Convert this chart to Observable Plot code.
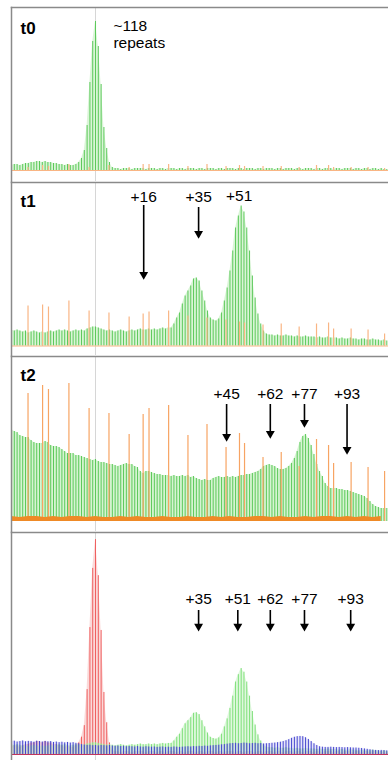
<!DOCTYPE html>
<html><head><meta charset="utf-8">
<script src="https://cdn.jsdelivr.net/npm/d3@7"></script>
<script src="https://cdn.jsdelivr.net/npm/@observablehq/plot@0.6"></script>
<style>
body{margin:0;background:#fff;}
#chart svg{display:block;}
</style></head><body><div id="chart"></div>
<script>
// ---- data: peak heights per CAG repeat (first repeat = 88) ----
const firstRepeat = 88;
const progenitorRepeat = 118;

// t0 (green) peak heights
const t0Green = [5,6,6,5,6,7,7,8,8,9,9,8,9,8,8,7,7,6,6,5,6,5,5,6,8,
  12,20,45,88,129,149,124,86,43,22,8,3,
  2,2,1,2,2,2,1,2,2,2, 2,1,2,2,2,1,2,2,1,2, 2,2,1,2,2,1,2,2,2,1, 2,2,1,2,2,2,1,2,2,1,
  2,2,2,1,2,2,1,2,2,2, 1,2,2,1,2,2,2,1,2,2, 1,2,2,2,1,2,2,1,2,2, 2,1,2,2,1,2,2,2,1,2,
  2,1,2,2,2,1,2,2,1,2, 2,1,2,2,1,2,1,1];

// t1 (green) peak heights
const t1Green = [16,15,16,15,14,15,13,14,15,14,13,14,13,14,15,14,15,16,15,16,15,14,15,16,15,16,15,17,18,19,
  19,18,17,16,15,16,15,14,15,16,15,14,15,16,15,16,17,16,16,17,16,17,16,17,18,17,18,
  18,22,28,33,42,50,55,60,67,68,65,55,45,35,28,26,25,27,33,45,58,75,95,118,130,140,134,118,95,70,48,32,22,15,12,
  11,11,10,11,10,10,11,10,10,9, 10,9,9,10,9,9,9,8,9,8, 8,9,8,8,8,7,8,7,7,8, 7,7,6,7,7,6,6,7,6,6, 5,6,5];

// t2 (green) peak heights
const t2Green = [92,90,89,86,85,84,84,81,79,78, 78,78,80,79,76,75,75,74,72,70,
  68,68,68,66,66,65,64,63,62,61, 62,60,59,59,58,57,57,56,55,56,
  57,58,57,57,55,54,50,48,50,50, 49,48,47,47,46,46,46,45,46,45,
  45,46,45,46,44,45,43,42,41,42, 41,41,43,44,45,44,44,45,44,45,
  44,45,46,46,47,47,48,49,50,52, 55,56,57,56,55,53,52,52,53,55,
  58,63,70,79,85,87,83,76,67,57, 50,45,38,35,33,33,33,32,32,31,
  31,30,29,28,27,26,25,23,20,17, 15,14,13,13,13];

// overlay panel: blue trace, % of the t0 maximum
const overlayBlue = [6.0,6.2,5.8,6.0,6.3,5.9,6.1,6.0,5.7,6.2,6.0,5.8,6.1,5.9,6.0,5.6,5.8,5.5,5.7,5.4,5.6,5.3,5.5,5.2,5.0,
  4.6,4.4,4.2,4.3,4.1,4.2,4.0,4.2,4.1,4.0,4.2,
  3.9,3.8,3.9,3.7,3.8,3.6,3.7,3.6,3.5,3.7,3.5,3.4,3.6,3.5,3.4,3.5,3.3,3.4,3.5,3.3,3.4,3.3,3.5,3.4,3.3,3.4,3.5,
  3.6,3.5,3.7,3.6,3.8,3.7,3.9,3.8,4.0,4.1,4.2,4.3,4.5,4.6,4.8,
  5.0,5.1,5.2,5.0,5.1,5.3,5.2,5.0,5.1,5.2,5.0,5.1,4.9,5.0,5.1,5.2,5.3,5.5,5.7,6.0,
  6.4,6.9,7.5,8.0,8.3,8.4,8.3,7.8,7.0,6.0,5.0,4.2,
  3.6,3.4,3.3,3.3,3.4,3.3,3.2,3.3,3.2,3.1,3.2,3.1,3.0,3.0,2.9,2.8,2.6,2.4,
  2.2,2.0,1.9,1.8,1.9,1.8,1.7];
const overlayGreenPeak = 40;   // t1 drawn at 40% of the t0 peak

// size standard (orange) peaks
const sizeStdPos = [93.9,99.1,101.2,108.5,115.7,122.8,130.0,135.0,137.1,144.1,151.0,157.8,164.6,169.4,171.2,177.8,184.3,190.7,196.9,201.2,203.0,209.25,215.3,221.2];
const t0Orange = [3,5,4,6,3,5,3,6,6,6,4,6,4,5,4,4,4,3,5,5,3,3,3,2];
const t1Orange = [40,41,39,45,35,33,29,32,34,35,30,28,26,24,23,21,22,19,22,23,17,17,16,12];
const t2Orange = [128,136,132,138,113,108,87,107,113,116,86,97,74,88,78,64,69,55,82,76,58,59,54,50];
const t2OrangeBaseStep = 3;
const t2OrangeBase = [5,4,5,5,4,5,4,5,5,4,5,4,4,5,4,5,4,4,5,4,4,5,4,4,5,4,5,4,4,5,5,4,5,4,4,5,4,5,5,4,5,4,5,4,5];

// annotations
const panelNames = ["t0","t1","t2",""];
const t0Note = "~118\nrepeats";
const t1Labels = ["+16","+35","+51"];
const t1LabelX = [135.2,154.8,169.3];
const t1LabelY = [144.5,144.5,145.5];
const t1ArrowTop = [140.5,138.5,null];
const t1ArrowTip = [66.5,107.5,null];
const t2Labels = ["+45","+62","+77","+93"];
const t2LabelX = [164.8,180.4,192.6,207.8];
const t2LabelY = 123;
const t2ArrowTop = 117;
const t2ArrowTip = [80,83,94,67];
const p4Labels = ["+35","+51","+62","+77","+93"];
const p4LabelX = [154.8,168.8,180.4,192.6,209.1];
const p4LabelY = 70.2;
const p4ArrowTop = 67.0;
const p4ArrowTip = 57.3;

// ---- helpers ----
const rows = (values, step = 1) => values.map((v, i) => ({r: firstRepeat + i * step, v}));
const std = (heights) => heights.map((v, i) => ({r: sizeStdPos[i], v}));
const xDomain = [88, 222.6];
const font = "'Liberation Sans', Arial, Helvetica, sans-serif";

function trace(data, stroke, fill, fillOpacity = 0.45, sw = 1) {
  return [
    Plot.areaY(data, {x: "r", y: "v", fill, fillOpacity, curve: "linear"}),
    Plot.ruleX(data, {x: "r", y1: 0, y2: "v", stroke, strokeWidth: sw})
  ];
}
function spikes(data, stroke, sw = 1.2) {
  return Plot.ruleX(data, {x: "r", y1: 0, y2: "v", stroke, strokeWidth: sw});
}
function arrows(list) {
  const a = list.filter(d => d.tip != null);
  return [
    Plot.ruleX(a, {x: "x", y1: "top", y2: "tip", stroke: "black", strokeWidth: 1.6, insetBottom: 5}),
    Plot.dot(a, {x: "x", y: "tip", symbol: "triangle", rotate: 180, r: 3.3, fill: "black", stroke: "none", dy: -5})
  ];
}
function labels(list) {
  return Plot.text(list, {x: "x", y: "y", text: "t", fontSize: 15.5, textAnchor: "middle", lineAnchor: "bottom", fill: "black"});
}
function panel({height, marginTop, yDomain, name, nameDy, marks}) {
  return Plot.plot({
    width: 388, height, marginLeft: 11, marginRight: 0, marginTop, marginBottom: 0,
    x: {domain: xDomain, axis: null},
    y: {domain: yDomain, axis: null},
    style: {fontFamily: font, overflow: "visible", background: "white"},
    marks: [
      Plot.ruleX([progenitorRepeat], {stroke: "#d6d6d6", strokeWidth: 1}),
      ...marks,
      name ? Plot.text([name], {frameAnchor: "top-left", dx: 9, dy: nameDy, fontSize: 17, fontWeight: "bold", textAnchor: "start", lineAnchor: "bottom", fill: "black"}) : null,
      Plot.frame({anchor: "top", stroke: "#8a8a8a", strokeWidth: 1.5}),
      Plot.frame({anchor: "left", stroke: "#8a8a8a", strokeWidth: 1.5})
    ]
  });
}

const green = "#5cc95a", greenFill = "#aee9a6";
const orangeLight = "#f9b584", orange = "#f7a463", orangeDark = "#ef8a26";

const chart = document.getElementById("chart");

// t0
chart.append(panel({
  height: 181, marginTop: 7, yDomain: [-11, 163], name: panelNames[0], nameDy: 26,
  marks: [
    ...trace(rows(t0Green), green, greenFill),
    spikes(std(t0Orange), orangeLight),
    Plot.ruleY([0], {stroke: orangeLight, strokeWidth: 1}),
    Plot.text([t0Note], {x: 124.4, y: 122.7, fontSize: 15.5, lineHeight: 1.07, textAnchor: "start", lineAnchor: "bottom", fill: "black"})
  ]
}));

// t1
const t1Ann = t1Labels.map((t, i) => ({t, x: t1LabelX[i], y: t1LabelY[i], top: t1ArrowTop[i], tip: t1ArrowTip[i]}));
chart.append(panel({
  height: 174, marginTop: 1, yDomain: [-9.5, 163.5], name: panelNames[1], nameDy: 24,
  marks: [
    ...trace(rows(t1Green), green, greenFill),
    spikes(std(t1Orange), orangeLight),
    Plot.ruleY([0], {stroke: orangeLight, strokeWidth: 1}),
    labels(t1Ann), ...arrows(t1Ann)
  ]
}));

// t2
const t2Ann = t2Labels.map((t, i) => ({t, x: t2LabelX[i], y: t2LabelY, top: t2ArrowTop, tip: t2ArrowTip[i]}));
chart.append(panel({
  height: 176, marginTop: 1, yDomain: [-10, 165], name: panelNames[2], nameDy: 24,
  marks: [
    ...trace(rows(t2Green), green, greenFill, 0.5),
    spikes(std(t2Orange), orange),
    Plot.areaY(rows(t2OrangeBase, t2OrangeBaseStep), {x: "r", y: "v", fill: orangeDark, curve: "linear"}),
    labels(t2Ann), ...arrows(t2Ann)
  ]
}));

// overlay
const t0Max = d3.max(t0Green), t1Max = d3.max(t1Green);
const redRows = rows(t0Green.map(v => v / t0Max * 100));
const greenRows = rows(t1Green.map(v => v / t1Max * overlayGreenPeak));
const p4Ann = p4Labels.map((t, i) => ({t, x: p4LabelX[i], y: p4LabelY, top: p4ArrowTop, tip: p4ArrowTip}));
chart.append(panel({
  height: 229, marginTop: 1, yDomain: [-2.8, 103.3], name: panelNames[3], nameDy: 24,
  marks: [
    ...trace(redRows, "#ef5f5f", "#f7b3b3", 0.5),
    ...trace(greenRows, "#7fe07a", "#c2f2bd", 0.5),
    ...trace(rows(overlayBlue), "#4646cf", "#a0a0ec", 0.25),
    Plot.ruleY([0], {stroke: "#c0305a", strokeWidth: 1}),
    labels(p4Ann), ...arrows(p4Ann)
  ]
}));
</script></body></html>
